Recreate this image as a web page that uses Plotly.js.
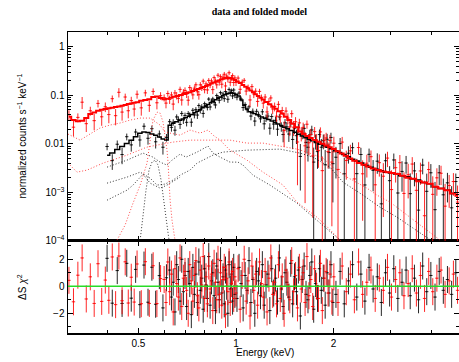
<!DOCTYPE html>
<html><head><meta charset="utf-8">
<script src="https://cdn.plot.ly/plotly-3.0.1.min.js"></script>
<style>html,body{margin:0;padding:0;background:#fff}#chart{width:459px;height:362px}</style>
</head><body><div id="chart"></div>
<script>
// ---------- dataset 2 (red): data bins ----------
const redE = [0.305,0.315,0.325,0.335,0.345,0.355,0.365,0.375,0.385,0.395,0.405,0.415,0.425,0.435,0.445,0.455,0.465,0.475,0.485,0.495,0.51,0.525,0.54,0.555,0.57,0.585,
0.600,0.608,0.616,0.624,0.632,0.640,0.648,0.656,0.664,0.672,0.680,0.688,0.696,0.704,0.712,0.720,0.728,0.736,0.744,0.752,0.760,0.768,0.776,0.784,0.792,0.800,0.808,0.816,0.824,0.832,0.840,0.848,0.856,0.864,0.872,0.880,0.888,0.896,0.904,0.912,0.920,0.928,0.936,0.944,0.952,0.960,0.968,0.976,0.984,0.992,
1.000,1.015,1.030,1.045,1.060,1.075,1.090,1.105,1.120,1.135,1.150,1.166,1.182,1.198,1.214,1.230,1.247,1.264,1.281,1.298,1.316,1.334,1.352,1.370,1.389,1.408,1.427,1.446,1.466,1.486,1.506,1.527,1.548,1.569,1.590,1.612,1.634,1.656,1.679,1.702,1.725,1.749,1.773,1.797,1.822,1.847,1.872,1.898,1.924,1.950,1.977,
2.005,2.065,2.127,2.19,2.255,2.32,2.39,2.46,2.535,2.61,2.69,2.77,2.85,2.935,3.02,3.11,3.205,3.30,3.40,3.50,3.605,3.71,3.82,3.935,4.05,4.17,4.295,4.42,4.55,4.69,4.83];
const redRate = [0.040,0.022,0.035,0.072,0.026,0.048,0.030,0.068,0.036,0.058,0.040,0.085,0.038,0.115,0.045,0.092,0.048,0.078,0.052,0.105,0.055,0.112,0.062,0.120,0.070,0.098,
0.0892,0.0689,0.1086,0.0818,0.1016,0.0658,0.1117,0.0989,0.0862,0.1322,0.0798,0.1150,0.1258,0.1055,0.0791,0.1438,0.1261,0.1019,0.1400,0.1645,0.1181,0.1026,0.1640,0.1451,0.1955,0.1306,0.1713,0.1288,0.2021,0.1639,0.1975,0.1307,0.2309,0.1965,0.1641,0.2587,0.1866,0.2415,0.1691,0.2354,0.2710,0.1555,0.2496,0.2162,0.2908,0.1853,0.2287,0.2528,0.1834,0.2276,
0.185,0.2259,0.1326,0.1870,0.2028,0.1219,0.1452,0.0801,0.1506,0.1063,0.1211,0.0747,0.1202,0.0889,0.0687,0.0919,0.0454,0.0746,0.0881,0.0523,0.0586,0.0371,0.0649,0.0361,0.0485,0.0187,0.0472,0.0339,0.0222,0.0418,0.0220,0.0285,0.0109,0.0270,0.0165,0.0218,0.0091,0.0253,0.0105,0.0155,0.0056,0.0178,0.0115,0.0073,0.0176,0.0028,0.0119,0.0132,0.0069,0.0117,0.0042,
0.01029,0.00297,0.01084,0.00452,0.00716,0.00189,0.00838,0.00241,0.00399,0.00543,0.00143,0.00408,0.00215,0.00508,0.00114,0.00322,0.00409,0.00095,0.00231,0.00383,0.0011,0.00276,0.00033,0.00295,0.00091,0.00199,0.00247,0.00052,0.00138,0.00167,0.00063];
const redErr = [0.009,0.0078,0.0073,0.02,0.0085,0.010,0.011,0.012,0.0125,0.013,0.0135,0.0138,0.014,0.025,0.015,0.016,0.0145,0.015,0.0154,0.02,0.017,0.0176,0.0166,0.0184,0.0188,0.0176,
0.0149,0.0151,0.0154,0.0157,0.0161,0.0166,0.0168,0.0173,0.0176,0.0181,0.0185,0.019,0.0194,0.0177,0.0181,0.0186,0.019,0.0195,0.02,0.0205,0.0211,0.0216,0.0222,0.0229,0.0235,0.0211,0.0217,0.0224,0.0231,0.0237,0.0244,0.0251,0.0258,0.0263,0.027,0.0279,0.0287,0.0294,0.03,0.0307,0.0314,0.0318,0.0321,0.0322,0.0321,0.0316,0.0311,0.0304,0.0297,0.0288,
0.03,0.0284,0.0267,0.025,0.0234,0.0219,0.0206,0.0218,0.0204,0.019,0.0179,0.0167,0.0156,0.0146,0.0154,0.0144,0.0135,0.0127,0.012,0.0112,0.0121,0.0114,0.0106,0.0099,0.0092,0.0101,0.0094,0.0086,0.0078,0.0073,0.0075,0.0069,0.0095,0.0057,0.0053,0.0055,0.0085,0.0049,0.0047,0.0048,0.0053,0.0044,0.0043,0.0041,0.0042,0.0027,0.0038,0.0037,0.0038,0.0036,0.004,
0.0037,0.00336,0.00302,0.00269,0.0024,0.00261,0.00238,0.00215,0.00197,0.00186,0.00174,0.00197,0.00184,0.00177,0.0017,0.00163,0.00179,0.00164,0.00156,0.00148,0.0014,0.00133,0.00141,0.00132,0.00123,0.00114,0.00106,0.00097,0.0009,0.00082,0.00075];
const redResid = [0.44,-1.15,0.82,2.1,-0.94,0.7,-1.27,1.67,-1.12,0.46,-1.04,2.17,-1.36,2.24,-1.07,1.81,-1.24,0.67,-1.17,1.65,-1.29,1.82,-1.27,1.52,-1.28,0.57,
0.5,-1.2,1.8,-0.4,0.9,-1.9,1.3,0.2,-0.8,2.1,-1.5,0.6,1.1,-0.3,-2.0,1.6,0.4,-1.1,0.8,1.9,-0.7,-1.6,1.2,0.1,2.2,-0.9,0.7,-1.3,1.5,-0.2,0.9,-1.8,1.7,0.3,-1.0,2.0,-0.6,1.0,-1.4,0.5,1.4,-2.1,0.6,-0.4,1.8,-1.2,0.2,1.1,-0.9,0.7,
-0.5,1.3,-1.7,0.8,2.0,-1.1,0.4,-2.2,1.5,-0.3,0.9,-1.4,1.8,0.2,-0.8,1.1,-1.9,0.6,2.1,-0.6,0.3,-1.3,1.6,-0.9,0.7,-2.0,1.2,0.1,-1.0,1.9,-0.4,0.8,-1.6,1.4,-0.2,1.0,-1.2,2.2,-0.7,0.5,-1.5,1.3,0.0,-0.9,1.7,-1.8,0.6,1.1,-0.5,0.9,-1.1,
0.7,-1.2,1.5,-0.4,0.9,-1.0,1.8,-0.6,0.3,1.2,-0.9,0.6,-0.3,1.4,-0.8,0.5,1.0,-0.7,0.2,1.3,-0.5,0.8,-0.9,1.1,-0.4,0.6,1.2,-0.6,0.4,0.9,-0.3];

// red folded model (total)
const redModelE = [0.305,0.315,0.325,0.335,0.345,0.355,0.365,0.375,0.385,0.395,0.405,0.415,0.425,0.435,0.445,0.455,0.465,0.475,0.485,0.495,0.51,0.525,0.54,0.555,0.57,0.585,0.60,0.615,0.63,0.645,0.66,0.675,0.69,0.705,0.72,0.735,0.75,0.765,0.78,0.795,0.81,0.825,0.84,0.855,0.87,0.885,0.90,0.915,0.93,0.945,0.96,0.975,0.99,1.01,1.03,1.05,1.07,1.09,1.11,1.13,1.15,1.17,1.19,1.21,1.24,1.27,1.30,1.33,1.36,1.39,1.42,1.46,1.50,1.54,1.58,1.62,1.66,1.70,1.75,1.80,1.85,1.90,1.95,2.00,2.06,2.12,2.18,2.25,2.32,2.40,2.48,2.56,2.65,2.75,2.85,2.95,3.05,3.15,3.27,3.40,3.53,3.67,3.82,3.97,4.13,4.30,4.48,4.67,4.85];
const redModel = [0.036,0.031,0.029,0.030,0.034,0.041,0.044,0.048,0.050,0.052,0.054,0.055,0.057,0.059,0.061,0.063,0.066,0.068,0.070,0.072,0.077,0.080,0.083,0.092,0.094,0.088,0.083,0.085,0.089,0.093,0.097,0.101,0.106,0.111,0.116,0.122,0.128,0.134,0.141,0.148,0.156,0.165,0.174,0.183,0.192,0.202,0.212,0.220,0.228,0.230,0.226,0.218,0.207,0.193,0.178,0.163,0.150,0.137,0.125,0.115,0.105,0.097,0.089,0.082,0.073,0.065,0.058,0.053,0.047,0.042,0.036,0.031,0.026,0.022,0.018,0.016,0.0145,0.0132,0.0120,0.0110,0.0100,0.0092,0.0085,0.0078,0.0070,0.0063,0.0057,0.0050,0.0045,0.0040,0.0037,0.0034,0.0031,0.0029,0.0027,0.0026,0.0025,0.0024,0.0022,0.0020,0.0019,0.0017,0.0016,0.0015,0.0013,0.0012,0.0011,0.00095,0.00085];

// red model components
const redSoftE = [0.303,0.3187,0.3303,0.354,0.380,0.408,0.438,0.471,0.506,0.543,0.583,0.604,0.626,0.672,0.721,0.774,0.8196,0.8492,0.893,0.958,1.0814,1.2114,1.3387,1.397,1.5428,1.778,1.909,2.094,2.201];
const redSoftV = [0.01585,0.01311,0.0119,0.01585,0.02107,0.0243,0.02672,0.0308,0.03388,0.03388,0.0243,0.01742,0.01662,0.0151,0.0192,0.01662,0.0192,0.0151,0.0119,0.0074,0.00461,0.002609,0.001702,0.00141,0.000628,0.000308,0.000197,0.000104,0.00008];
const redHardE = [0.303,0.323,0.3468,0.3886,0.4609,0.5313,0.5705,0.6392,0.721,0.8492,0.958,1.0814,1.2114,1.367,1.5428,1.656,1.855,1.993,2.201,2.537,2.724,2.99,3.777,4.263];
const redHardV = [0.0040,0.002609,0.00287,0.0040,0.00585,0.008551,0.0094,0.01084,0.0119,0.0119,0.0119,0.01034,0.01034,0.008965,0.007774,0.006743,0.005071,0.003309,0.002057,0.00122,0.000875,0.000628,0.000197,0.000104];
const redLineE = [0.4293,0.4545,0.481,0.506,0.5313,0.543,0.5544,0.5705,0.583,0.5953,0.604,0.6124,0.6168,0.626,0.6346,0.6482];
const redLineV = [0.000104,0.000211,0.000599,0.00141,0.0040,0.0119,0.0308,0.04504,0.04295,0.02802,0.0151,0.0074,0.004195,0.00069,0.000267,0.000104];

// ---------- dataset 1 (black): data bins ----------
const blackE = [0.40,0.415,0.43,0.445,0.46,0.475,0.49,0.505,0.52,0.535,0.55,0.565,0.58,0.595,0.61,
0.624,0.632,0.640,0.648,0.656,0.664,0.672,0.680,0.688,0.696,0.704,0.712,0.720,0.728,0.736,0.744,0.752,0.760,0.768,0.776,0.784,0.792,0.800,0.808,0.816,0.824,0.832,0.840,0.848,0.856,0.864,0.872,0.880,0.888,0.896,0.904,0.912,0.920,0.928,0.936,0.944,0.952,0.960,0.968,0.976,0.984,0.992,
1.007,1.022,1.037,1.052,1.067,1.082,1.097,1.112,1.127,1.143,1.158,1.174,1.190,1.206,1.222,1.238,1.255,1.272,1.289,1.307,1.325,1.343,1.361,1.380,1.398,1.417,1.436,1.456,1.476,1.496,1.516,1.537,1.558,1.580,1.601,1.623,1.645,1.668,1.690,1.714,1.737,1.761,1.785,1.810,1.834,1.860,1.885,1.911,1.937,1.964,1.991,
2.035,2.096,2.159,2.224,2.29,2.36,2.43,2.50,2.575,2.65,2.73,2.81,2.895,2.98,3.07,3.16,3.255,3.35,3.45,3.555,3.66,3.77,3.88,3.995,4.115,4.24,4.365,4.495,4.63,4.77];
const blackRate = [0.0088,0.0045,0.0098,0.0060,0.0140,0.0095,0.0175,0.0120,0.0230,0.0130,0.0205,0.0110,0.0160,0.0085,0.0135,
0.0286,0.0218,0.0278,0.0191,0.0358,0.0319,0.0251,0.0422,0.0309,0.0384,0.0277,0.0421,0.0391,0.0279,0.049,0.0394,0.0507,0.0391,0.0613,0.0493,0.058,0.0423,0.067,0.0612,0.0562,0.0834,0.0574,0.0755,0.084,0.0714,0.0631,0.0985,0.0896,0.0788,0.113,0.0893,0.1062,0.0852,0.119,0.1065,0.0828,0.1317,0.1088,0.1241,0.0968,0.1285,0.1002,
0.091,0.111,0.084,0.0558,0.0647,0.0501,0.0577,0.0373,0.0468,0.0294,0.0466,0.0403,0.0327,0.0457,0.0258,0.0341,0.0372,0.021,0.0364,0.0255,0.0304,0.02,0.0357,0.0227,0.0155,0.027,0.0223,0.0159,0.0271,0.0123,0.0209,0.0147,0.0214,0.0055,0.0166,0.0208,0.0107,0.0085,0.0154,0.0193,0.0042,0.0116,0.0069,0.0155,0.0085,0.0116,0.0037,0.0124,0.0066,0.0135,0.0039,
0.00529,0.01009,0.00241,0.00639,0.00833,0.00243,0.00602,0.00142,0.00607,0.00284,0.00439,0.00058,0.00448,0.00174,0.00465,0.00097,0.0027,0.00402,0.00094,0.00277,0.00043,0.00364,0.00105,0.00253,0.00044,0.00253,0.00089,0.00157,0.00048,0.00167];
const blackErr = [0.00145,0.0016,0.0019,0.0022,0.00224,0.0026,0.0028,0.0033,0.0035,0.0034,0.0032,0.003,0.0028,0.0025,0.0024,
0.00384,0.004,0.00424,0.0044,0.00456,0.00472,0.00488,0.00512,0.00528,0.00544,0.0049,0.00511,0.00532,0.00553,0.00574,0.00602,0.0063,0.00658,0.00686,0.00721,0.00749,0.00777,0.00696,0.00726,0.00756,0.00792,0.00828,0.00864,0.009,0.00936,0.00966,0.01002,0.01038,0.01074,0.01104,0.0114,0.01176,0.01212,0.01248,0.01278,0.01308,0.01326,0.01338,0.01344,0.01338,0.0132,0.01296,
0.01224,0.0114,0.00984,0.00828,0.00708,0.00624,0.00564,0.00683,0.00653,0.0063,0.006,0.0057,0.00548,0.00639,0.00621,0.00603,0.00576,0.00558,0.00531,0.006,0.00567,0.00546,0.00521,0.00498,0.00475,0.0054,0.00518,0.00498,0.00475,0.00455,0.00505,0.00481,0.00461,0.00441,0.00421,0.00459,0.00439,0.00419,0.00403,0.00429,0.00414,0.004,0.00385,0.0042,0.00407,0.00391,0.00378,0.00365,0.00353,0.0034,0.00328,
0.00336,0.00308,0.00276,0.00248,0.00221,0.00246,0.00224,0.00207,0.0019,0.00179,0.00198,0.00185,0.00178,0.00172,0.00165,0.00158,0.00167,0.0016,0.00152,0.00144,0.00137,0.00129,0.00138,0.00129,0.0012,0.00112,0.00103,0.00095,0.00086,0.00077];
const blackResid = [2.07,-1.25,1.16,-1.27,1.7,-0.88,1.25,-1.36,1.57,-1.18,1.41,-1.33,0.79,-1.6,0.63,
1.2,-0.8,0.3,-1.9,1.6,0.5,-1.1,2.0,-0.4,0.8,-1.5,1.1,0.2,-2.1,1.4,-0.6,0.9,-1.2,1.8,-0.3,0.6,-1.7,1.3,0.1,-0.9,2.2,-1.4,0.4,1.0,-0.7,-1.8,1.5,0.3,-1.0,1.9,-0.5,0.7,-1.3,1.2,0.0,-2.0,1.6,-0.2,0.9,-1.1,1.4,-0.6,
-0.9,1.4,0.2,-1.6,0.8,-0.3,1.9,-1.2,0.5,-2.0,1.1,0.4,-0.7,1.6,-1.4,0.1,0.9,-1.8,1.3,-0.5,0.6,-1.1,2.1,-0.2,-1.5,1.0,0.3,-0.8,1.7,-1.3,0.7,-0.4,1.2,-2.2,0.5,1.5,-0.6,-1.0,0.8,1.8,-1.7,0.2,-0.9,1.3,-0.3,0.6,-1.4,1.0,-0.5,1.6,-1.2,
-0.6,1.1,-1.3,0.4,1.6,-0.8,0.9,-1.1,1.4,-0.2,0.7,-1.2,1.0,-0.5,1.3,-0.9,0.3,1.2,-0.7,0.6,-1.0,1.5,-0.4,0.8,-0.8,1.1,-0.3,0.5,-0.6,1.0];

// black folded model (total)
const blackModelE = [0.40,0.415,0.43,0.445,0.46,0.475,0.49,0.505,0.52,0.535,0.55,0.565,0.58,0.595,0.61,0.625,0.64,0.655,0.67,0.685,0.70,0.715,0.73,0.745,0.76,0.775,0.79,0.805,0.82,0.835,0.85,0.865,0.88,0.895,0.91,0.925,0.94,0.955,0.97,0.985,1.00,1.02,1.04,1.06,1.08,1.10,1.12,1.14,1.16,1.18,1.20,1.23,1.26,1.29,1.32,1.35,1.38,1.41,1.44,1.48,1.52,1.56,1.60,1.64,1.68,1.72,1.77,1.82,1.87,1.92,1.97,2.03,2.09,2.15,2.22,2.29,2.36,2.44,2.52,2.61,2.70,2.80,2.90,3.01,3.12,3.24,3.37,3.50,3.64,3.79,3.95,4.12,4.30,4.49,4.70];
const blackModel = [0.0058,0.0065,0.0076,0.0088,0.0102,0.0118,0.0140,0.0165,0.0175,0.0170,0.0160,0.0150,0.0138,0.0125,0.0120,0.0240,0.0265,0.0285,0.0305,0.0325,0.0345,0.0370,0.0400,0.0435,0.0470,0.0510,0.0550,0.0595,0.0645,0.0700,0.0755,0.0810,0.0865,0.0920,0.0975,0.1030,0.1080,0.1110,0.1120,0.1100,0.1050,0.0960,0.0800,0.0620,0.0520,0.0460,0.0435,0.0420,0.0395,0.0375,0.0355,0.0335,0.0315,0.0295,0.0275,0.0255,0.0237,0.0220,0.0205,0.0188,0.0172,0.0158,0.0145,0.0134,0.0124,0.0115,0.0106,0.0098,0.0091,0.0085,0.0079,0.0072,0.0066,0.0060,0.0054,0.0048,0.0044,0.0040,0.0036,0.0033,0.0030,0.0028,0.0026,0.0025,0.0024,0.0022,0.0021,0.0019,0.0018,0.0016,0.0015,0.0013,0.0012,0.0011,0.00095];

// black model components
const blackSoftE = [0.400,0.4609,0.5164,0.5544,0.583,0.6124,0.6346,0.672,0.701,0.758,0.8196,0.8492,0.893,0.958,1.0143,1.051,1.1284,1.273,1.5428,1.778,1.950,2.094];
const blackSoftV = [0.003309,0.00461,0.006428,0.005317,0.004195,0.00364,0.00461,0.006131,0.005317,0.006743,0.008965,0.006428,0.005317,0.004195,0.004195,0.00364,0.00226,0.00141,0.000599,0.000267,0.000155,0.000104];
const blackHardE = [0.400,0.4609,0.506,0.543,0.5705,0.604,0.6392,0.672,0.721,0.758,0.8492,0.9118,1.0814,1.367,1.576,1.7283,1.950,2.139,2.466,2.783,3.14,3.97,4.143];
const blackHardV = [0.001548,0.002057,0.002609,0.001963,0.00141,0.00148,0.00179,0.00226,0.00287,0.0040,0.00585,0.006743,0.0074,0.007774,0.006428,0.005317,0.003309,0.001623,0.000875,0.000495,0.000308,0.0001063,0.000104];
const blackWarmE = [0.400,0.4609,0.481,0.5164,0.543,0.583,0.6124,0.6392,0.672];
const blackWarmV = [0.00069,0.00111,0.00141,0.002373,0.001548,0.00122,0.00141,0.001702,0.002057];
const blackLineE = [0.506,0.5164,0.5275,0.5389,0.5505,0.563,0.5745,0.5871,0.5997,0.6124,0.6212];
const blackLineV = [0.000104,0.000339,0.00111,0.00287,0.004195,0.00461,0.00364,0.00179,0.000544,0.000211,0.000104];

// ---------- build traces ----------
function dataTrace(x, y, err, color) {
  return {x, y, type:'scatter', mode:'markers', xaxis:'x2', yaxis:'y',
    marker:{size:1, color}, hoverinfo:'skip', showlegend:false,
    error_y:{type:'data', array:err, color, thickness:1, width:0},
    error_x:{type:'percent', value:1.2, color, thickness:1, width:0}};
}
function residTrace(x, y, color) {
  return {x, y, type:'scatter', mode:'markers', xaxis:'x', yaxis:'y2',
    marker:{size:1, color}, hoverinfo:'skip', showlegend:false,
    error_y:{type:'constant', value:1, color, thickness:1, width:0},
    error_x:{type:'percent', value:1.2, color, thickness:1, width:0}};
}
function lineTrace(x, y, color, width, dash) {
  return {x, y, type:'scatter', mode:'lines', xaxis:'x2', yaxis:'y',
    line:{color, width, dash, shape: dash === 'solid' ? 'hvh' : 'linear'}, hoverinfo:'skip', showlegend:false};
}
const BLK = 'rgba(0,0,0,0.85)', RED = 'rgba(255,0,0,0.85)';
const DBLK = 'rgba(0,0,0,0.8)', DRED = 'rgba(255,30,30,0.8)';
const DOT = '1px,2px';
const traces = [
  dataTrace(blackE, blackRate, blackErr, BLK),
  dataTrace(redE, redRate, redErr, RED),
  lineTrace(blackModelE, blackModel, '#000', 1.5, 'solid'),
  lineTrace(redModelE, redModel, '#ff0000', 2, 'solid'),
  lineTrace(blackSoftE, blackSoftV, DBLK, 1, DOT),
  lineTrace(blackHardE, blackHardV, DBLK, 1, DOT),
  lineTrace(blackWarmE, blackWarmV, DBLK, 1, DOT),
  lineTrace(blackLineE, blackLineV, DBLK, 1, DOT),
  lineTrace(redSoftE, redSoftV, DRED, 1, DOT),
  lineTrace(redHardE, redHardV, DRED, 1, DOT),
  lineTrace(redLineE, redLineV, DRED, 1, DOT),
  residTrace(blackE, blackResid, BLK),
  residTrace(redE, redResid, RED)
];

// ---------- axes ----------
const minorY = [];
for (let d = -4; d <= 0; d++) for (let k = 2; k <= 9; k++) minorY.push(k * Math.pow(10, d));
const font = {family:'Liberation Sans, Arial, sans-serif', size:10, color:'#000'};
const axBase = {ticks:'inside', ticklen:5, tickwidth:1, tickcolor:'#000', mirror:'ticks', showline:true,
  linecolor:'#000', linewidth:1.5, showgrid:false, zeroline:false, tickfont:font};
const xBase = Object.assign({}, axBase, {type:'log', range:[-0.5186, 0.6884],
  tickvals:[0.5, 1, 2], ticktext:['0.5', '1', '2'],
  minor:{tickvals:[0.4, 0.6, 0.7, 0.8, 0.9, 3, 4], ticks:'inside', ticklen:3, tickcolor:'#000'}});

const layout = {
  width:459, height:362, paper_bgcolor:'#fff', plot_bgcolor:'#fff',
  margin:{l:68, r:0, t:32, b:29},
  title:{text:'<b>data and folded model</b>', font:{family:'Liberation Serif, Times New Roman, serif', size:10, color:'#000'},
    x:0.565, xref:'container', xanchor:'center', y:0.967, yref:'container', yanchor:'middle'},
  xaxis: Object.assign({}, xBase, {anchor:'y2', domain:[0, 1]}),
  xaxis2: Object.assign({}, xBase, {anchor:'y', domain:[0, 1], matches:'x', showticklabels:false}),
  yaxis: Object.assign({}, axBase, {type:'log', domain:[0.306, 1], anchor:'x2', range:[-4, 0.303],
    tickvals:[1e-4, 1e-3, 0.01, 0.1, 1], ticktext:['10<sup>−4</sup>', '10<sup>−3</sup>', '0.01', '0.1', '1'],
    minor:{tickvals:minorY, ticks:'inside', ticklen:3, tickcolor:'#000'}}),
  yaxis2: Object.assign({}, axBase, {domain:[0, 0.306], anchor:'x', range:[-3.46, 3.36],
    tickvals:[-2, 0, 2], ticktext:['−2', '0', '2'],
    minor:{dtick:1, ticks:'inside', ticklen:3, tickcolor:'#000'}}),
  shapes:[{type:'line', xref:'paper', x0:0, x1:1, yref:'y2', y0:0, y1:0, line:{color:'rgb(40,220,40)', width:1.5}}],
  annotations:[
    {text:'normalized counts s<sup>−1</sup> keV<sup>−1</sup>', xref:'paper', yref:'paper', x:-0.1176, y:0.653,
      textangle:-90, showarrow:false, xanchor:'center', yanchor:'middle', font:font},
    {text:'ΔS <i>χ</i><sup>2</sup>', xref:'paper', yref:'paper', x:-0.1176, y:0.153,
      textangle:-90, showarrow:false, xanchor:'center', yanchor:'middle', font:font},
    {text:'Energy (keV)', xref:'paper', yref:'paper', x:0.504, y:-0.064,
      showarrow:false, xanchor:'center', yanchor:'middle', font:font}
  ]
};
Plotly.newPlot('chart', traces, layout, {staticPlot:true, displayModeBar:false});
</script>
</body></html>
